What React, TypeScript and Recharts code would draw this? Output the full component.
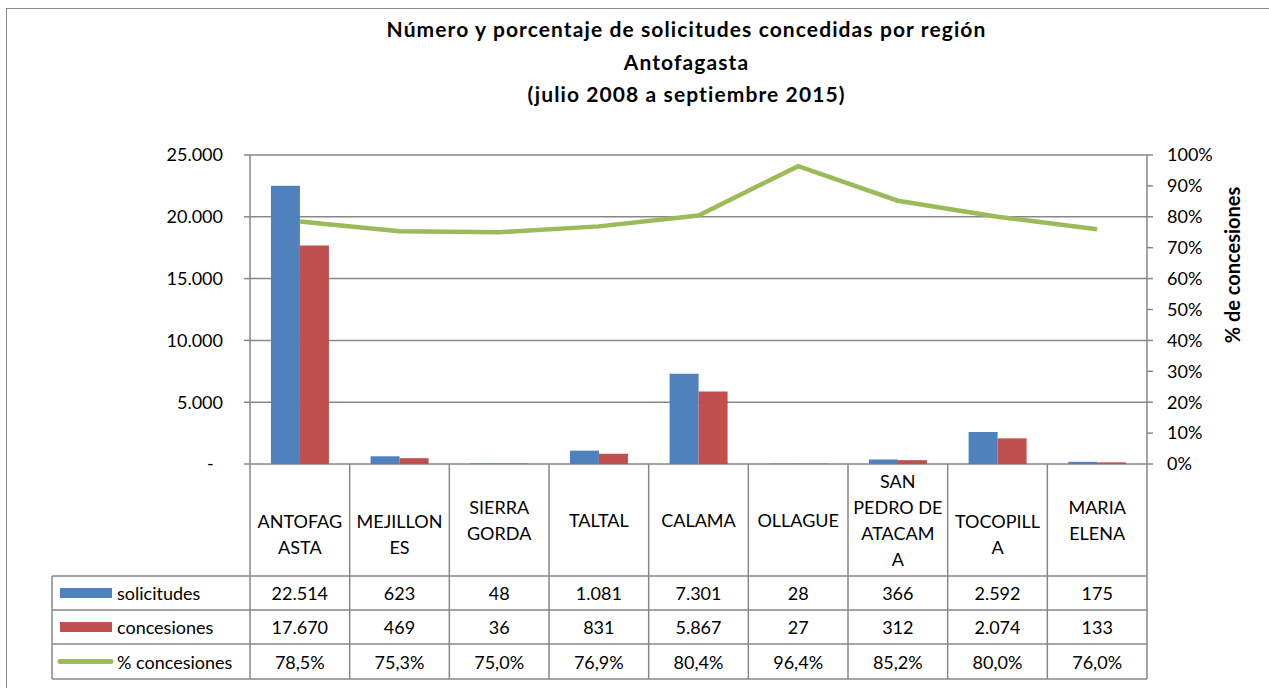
import React from "react";
import {
  ComposedChart,
  Bar,
  Line,
  XAxis,
  YAxis,
  CartesianGrid,
} from "recharts";

const categories = [
  "ANTOFAGASTA",
  "MEJILLONES",
  "SIERRA GORDA",
  "TALTAL",
  "CALAMA",
  "OLLAGUE",
  "SAN PEDRO DE ATACAMA",
  "TOCOPILLA",
  "MARIA ELENA",
];
// wrapped like the excel data table draws them
const categoryLabels = [
  ["ANTOFAG", "ASTA"],
  ["MEJILLON", "ES"],
  ["SIERRA", "GORDA"],
  ["TALTAL"],
  ["CALAMA"],
  ["OLLAGUE"],
  ["SAN", "PEDRO DE", "ATACAM", "A"],
  ["TOCOPILL", "A"],
  ["MARIA", "ELENA"],
];
const solicitudes = [22514, 623, 48, 1081, 7301, 28, 366, 2592, 175];
const concesiones = [17670, 469, 36, 831, 5867, 27, 312, 2074, 133];
const pctConcesiones = [0.785, 0.753, 0.75, 0.769, 0.804, 0.964, 0.852, 0.8, 0.76];
const leftTicks = [0, 5000, 10000, 15000, 20000, 25000];
const rightTicks = [0, 0.1, 0.2, 0.3, 0.4, 0.5, 0.6, 0.7, 0.8, 0.9, 1];

const W = 1269;
const H = 688;
const FONT = "Lato, Carlito, 'Liberation Sans', sans-serif";
const GRID = "#878787";
const BLUE = "#4F81BD";
const RED = "#C0504D";
const GREEN = "#9BBB59";

// plot area
const PX0 = 250;
const PX1 = 1147;
const PY0 = 155;
const PY1 = 464;
const AXIS_W = 60;

// data table
const TX0 = 52;
const ROWS = [464, 576, 610, 644, 679];

const fmtNum = (n: number) =>
  String(n).replace(/\B(?=(\d{3})+(?!\d))/g, ".");
const fmtPct = (v: number) => (v * 100).toFixed(1).replace(".", ",") + "%";

export default function App() {
  const data = categories.map((name, i) => ({
    name,
    solicitudes: solicitudes[i],
    concesiones: concesiones[i],
    pct: pctConcesiones[i],
  }));

  const colW = (PX1 - PX0) / categories.length;
  const rowMid = (r: number) => (ROWS[r] + ROWS[r + 1]) / 2;

  const rows = [
    { name: "solicitudes", color: BLUE, kind: "bar", values: solicitudes.map(fmtNum) },
    { name: "concesiones", color: RED, kind: "bar", values: concesiones.map(fmtNum) },
    { name: "% concesiones", color: GREEN, kind: "line", values: pctConcesiones.map(fmtPct) },
  ];

  return (
    <div
      style={{
        position: "absolute",
        left: 0,
        top: 0,
        width: W,
        height: H,
        background: "#fff",
        fontFamily: FONT,
        overflow: "hidden",
      }}
    >
      <div
        style={{
          position: "absolute",
          left: 6,
          top: 8,
          width: W,
          height: H,
          borderLeft: "1.5px solid #8a8a8a",
          borderTop: "1.5px solid #8a8a8a",
        }}
      />
      <div
        style={{
          position: "absolute",
          left: 0,
          width: 1373,
          top: 13,
          textAlign: "center",
          fontWeight: 700,
          fontSize: 21,
          letterSpacing: 1.1,
          lineHeight: "32.5px",
          color: "#000",
        }}
      >
        <div>Número y porcentaje de solicitudes concedidas por región</div>
        <div>Antofagasta</div>
        <div>(julio 2008 a septiembre 2015)</div>
      </div>

      <div style={{ position: "absolute", left: 0, top: 0 }}>
        <ComposedChart
          width={W}
          height={H}
          data={data}
          margin={{ top: PY0, right: W - PX1 - AXIS_W, bottom: H - PY1, left: PX0 - AXIS_W }}
          barCategoryGap="21%"
          barGap={0}
        >
          <CartesianGrid
            yAxisId="left"
            vertical={false}
            stroke={GRID}
            strokeWidth={1.5}
          />
          <XAxis dataKey="name" hide />
          <YAxis
            yAxisId="left"
            orientation="left"
            width={AXIS_W}
            domain={[0, 25000]}
            ticks={leftTicks}
            interval={0}
            tickFormatter={(v: number) => (v === 0 ? "-\u00a0\u00a0" : fmtNum(v))}
            tick={{ fill: "#000", fontSize: 18, fontFamily: FONT }}
            axisLine={{ stroke: GRID, strokeWidth: 1.5 }}
            tickLine={{ stroke: GRID, strokeWidth: 1.5 }}
            tickSize={6}
            tickMargin={21}
          />
          <YAxis
            yAxisId="right"
            orientation="right"
            width={AXIS_W}
            domain={[0, 1]}
            ticks={rightTicks}
            interval={0}
            tickFormatter={(v: number) => `${Math.round(v * 100)}%`}
            tick={{ fill: "#000", fontSize: 18, fontFamily: FONT }}
            axisLine={{ stroke: GRID, strokeWidth: 1.5 }}
            tickLine={{ stroke: GRID, strokeWidth: 1.5 }}
            tickSize={6}
            tickMargin={14}
          />
          <Bar yAxisId="left" dataKey="solicitudes" fill={BLUE} isAnimationActive={false} />
          <Bar yAxisId="left" dataKey="concesiones" fill={RED} isAnimationActive={false} />
          <Line
            yAxisId="right"
            dataKey="pct"
            stroke={GREEN}
            strokeWidth={4.5}
            dot={false}
            activeDot={false}
            type="linear"
            isAnimationActive={false}
          />
        </ComposedChart>
      </div>

      <div
        style={{
          position: "absolute",
          left: 1232,
          top: 265,
          width: 0,
          height: 0,
        }}
      >
        <div
          style={{
            position: "absolute",
            transform: "translate(-50%, -50%) rotate(-90deg)",
            whiteSpace: "nowrap",
            fontWeight: 700,
            fontSize: 20,
            color: "#000",
          }}
        >
          % de concesiones
        </div>
      </div>

      <svg
        width={W}
        height={H}
        style={{ position: "absolute", left: 0, top: 0, pointerEvents: "none" }}
        fontFamily={FONT}
        fontSize={18}
      >
        {/* category header row */}
        {categories.map((c, i) => {
          const x = PX0 + i * colW;
          const lines = categoryLabels[i];
          const lh = 26;
          // labels broken inside a word keep their first line on the middle
          const midWord = lines.length > 1 && lines.join("") === c;
          const y0 = midWord
            ? rowMid(0) + 1
            : rowMid(0) - ((lines.length - 1) * lh) / 2;
          return (
            <g key={c}>
              <text x={x + colW / 2} textAnchor="middle" dominantBaseline="central" fill="#000">
                {lines.map((l, k) => (
                  <tspan key={k} x={x + colW / 2} y={y0 + k * lh}>
                    {l}
                  </tspan>
                ))}
              </text>
            </g>
          );
        })}
        {/* value rows */}
        {rows.map((r, ri) => {
          const cy = rowMid(ri + 1);
          return (
            <g key={r.name}>
              {r.kind === "bar" ? (
                <rect x={60} y={cy - 5} width={52} height={10} fill={r.color} />
              ) : (
                <line
                  x1={60}
                  x2={111}
                  y1={cy}
                  y2={cy}
                  stroke={r.color}
                  strokeWidth={5}
                  strokeLinecap="round"
                />
              )}
              <text x={117} y={cy} dominantBaseline="central" fill="#000">
                {r.name}
              </text>
              {r.values.map((v, i) => (
                <text
                  key={i}
                  x={PX0 + i * colW + colW / 2}
                  y={cy}
                  textAnchor="middle"
                  dominantBaseline="central"
                  fill="#000"
                >
                  {v}
                </text>
              ))}
            </g>
          );
        })}
        {/* table grid */}
        {categories.map((c, i) => (
          <line
            key={"v" + c}
            x1={PX0 + (i + 1) * colW}
            x2={PX0 + (i + 1) * colW}
            y1={ROWS[0]}
            y2={ROWS[4]}
            stroke={GRID}
            strokeWidth={1.5}
          />
        ))}
        <line x1={PX0} x2={PX0} y1={ROWS[0]} y2={ROWS[4]} stroke={GRID} strokeWidth={1.5} />
        <line x1={TX0} x2={TX0} y1={ROWS[1]} y2={ROWS[4]} stroke={GRID} strokeWidth={1.5} />
        {ROWS.slice(1).map((y) => (
          <line key={y} x1={TX0} x2={PX1} y1={y} y2={y} stroke={GRID} strokeWidth={1.5} />
        ))}
      </svg>
    </div>
  );
}
